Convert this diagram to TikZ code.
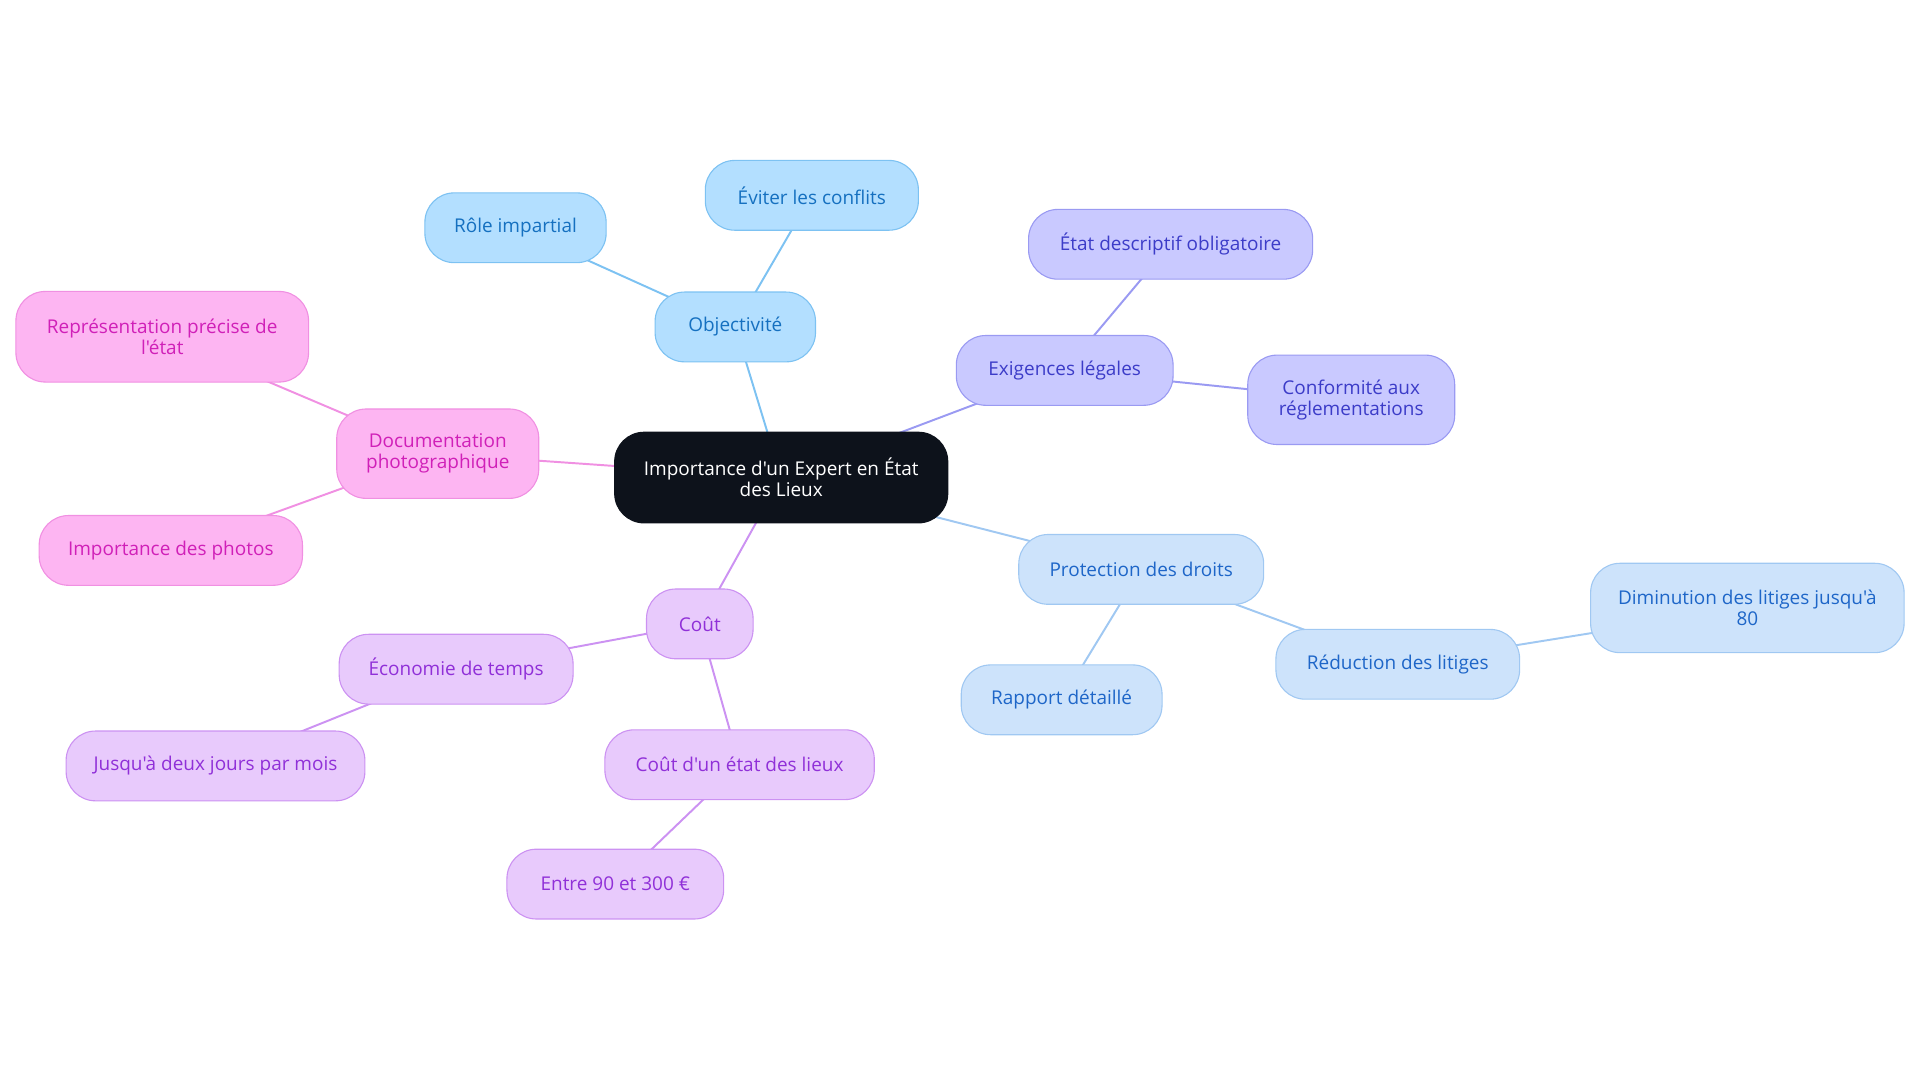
\documentclass[tikz,border=0pt]{standalone}
\usepackage{fontspec}
\setmainfont{Open Sans}[Ligatures=TeXOff]
\usetikzlibrary{backgrounds}
\definecolor{objF}{HTML}{B3DFFF}\definecolor{objD}{HTML}{7DC2F2}\definecolor{objT}{HTML}{1570C0}
\definecolor{exiF}{HTML}{C9C9FF}\definecolor{exiD}{HTML}{9A9AF2}\definecolor{exiT}{HTML}{3C3CC8}
\definecolor{proF}{HTML}{CDE3FB}\definecolor{proD}{HTML}{A0C8F2}\definecolor{proT}{HTML}{1E66C8}
\definecolor{couF}{HTML}{E8CAFC}\definecolor{couD}{HTML}{CC92F2}\definecolor{couT}{HTML}{9030D8}
\definecolor{docF}{HTML}{FDB5F2}\definecolor{docD}{HTML}{F090E2}\definecolor{docT}{HTML}{D020B8}
\definecolor{cenF}{HTML}{0D121B}
\begin{document}
\begin{tikzpicture}[x=1pt,y=1pt,
  box/.style={rectangle, rounded corners=24pt, line width=0.9pt, align=center, inner sep=0pt,
    font=\fontsize{15.5}{17}\selectfont, minimum height=57pt},
  objbox/.style={box, fill=objF, draw=objD, text=objT},
  exibox/.style={box, fill=exiF, draw=exiD, text=exiT},
  probox/.style={box, fill=proF, draw=proD, text=proT},
  coubox/.style={box, fill=couF, draw=couD, text=couT},
  docbox/.style={box, fill=docF, draw=docD, text=docT},
  cenbox/.style={box, fill=cenF, draw=cenF, text=white},
  eo/.style={line width=1.6pt, draw=objD},
  ee/.style={line width=1.6pt, draw=exiD},
  ep/.style={line width=1.6pt, draw=proD},
  ec/.style={line width=1.6pt, draw=couD},
  ed/.style={line width=1.6pt, draw=docD}]
\useasboundingbox (0,0) rectangle (1568,-884.4);
% nodes
\node[cenbox, minimum width=272pt, minimum height=74pt] (c) at (638,-390) {Importance d'un Expert en État\\des Lieux};
\node[objbox, minimum width=131pt] (obj) at (600.5,-267) {Objectivité};
\node[objbox, minimum width=148pt] (role) at (421,-186) {Rôle impartial};
\node[objbox, minimum width=174pt] (evit) at (663,-159.5) {Éviter les conflits};
\node[exibox, minimum width=177pt] (exi) at (869.5,-302.5) {Exigences légales};
\node[exibox, minimum width=232pt] (etat) at (956,-199.5) {État descriptif obligatoire};
\node[exibox, minimum width=169pt, minimum height=73pt] (conf) at (1103.5,-326.5) {Conformité aux\\réglementations};
\node[probox, minimum width=200pt] (pro) at (932,-465) {Protection des droits};
\node[probox, minimum width=164pt] (rap) at (867,-571.5) {Rapport détaillé};
\node[probox, minimum width=199pt] (red) at (1141.5,-542.5) {Réduction des litiges};
\node[probox, minimum width=256pt, minimum height=73pt] (dim) at (1427,-496.5) {Diminution des litiges jusqu'à\\80};
\node[coubox, minimum width=87pt] (cou) at (571.5,-509.5) {Coût};
\node[coubox, minimum width=191pt] (eco) at (372.5,-546.5) {Économie de temps};
\node[coubox, minimum width=244pt] (jus) at (176,-625.5) {Jusqu'à deux jours par mois};
\node[coubox, minimum width=220pt] (cel) at (604,-624.5) {Coût d'un état des lieux};
\node[coubox, minimum width=177pt] (ent) at (502.5,-722) {Entre 90 et 300 €};
\node[docbox, minimum width=165pt, minimum height=73pt] (doc) at (357.5,-370.5) {Documentation\\photographique};
\node[docbox, minimum width=239pt, minimum height=74pt] (rep) at (132.5,-275) {Représentation précise de\\l'état};
\node[docbox, minimum width=215pt] (imp) at (139.5,-449.5) {Importance des photos};
% edges (behind the boxes, centre to centre)
\begin{scope}[on background layer]
\draw[eo] (c.center) -- (obj.center); \draw[eo] (obj.center) -- (role.center); \draw[eo] (obj.center) -- (evit.center);
\draw[ee] (c.center) -- (exi.center); \draw[ee] (exi.center) -- (etat.center); \draw[ee] (exi.center) -- (conf.center);
\draw[ep] (c.center) -- (pro.center); \draw[ep] (pro.center) -- (rap.center); \draw[ep] (pro.center) -- (red.center); \draw[ep] (red.center) -- (dim.center);
\draw[ec] (c.center) -- (cou.center); \draw[ec] (cou.center) -- (eco.center); \draw[ec] (eco.center) -- (jus.center); \draw[ec] (cou.center) -- (cel.center); \draw[ec] (cel.center) -- (ent.center);
\draw[ed] (c.center) -- (doc.center); \draw[ed] (doc.center) -- (rep.center); \draw[ed] (doc.center) -- (imp.center);
\end{scope}
\end{tikzpicture}
\end{document}
